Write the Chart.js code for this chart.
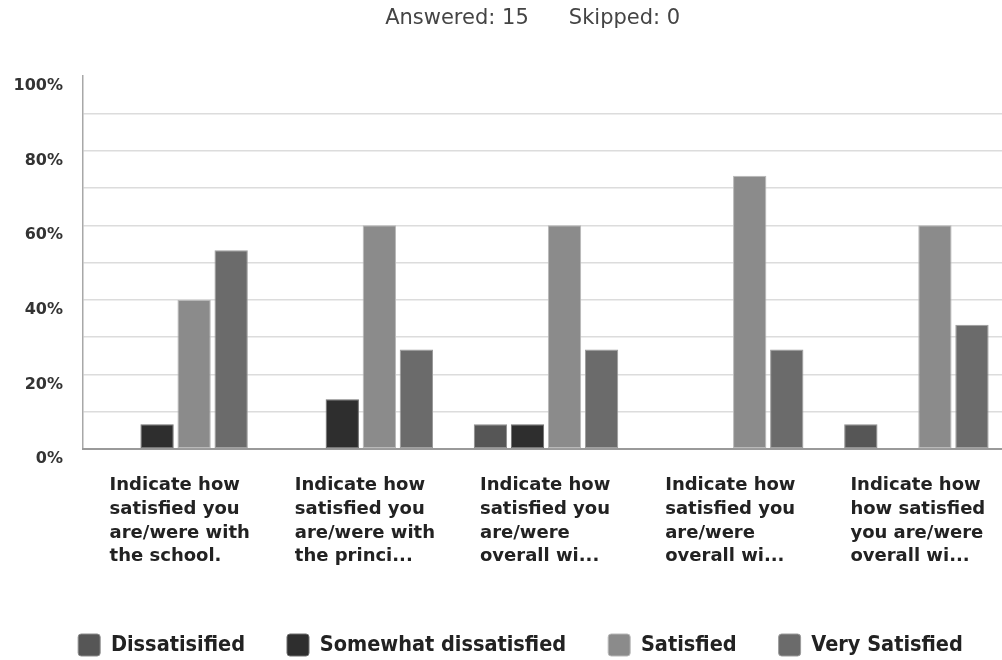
<!DOCTYPE html>
<html>
<head>
<meta charset="utf-8">
<script src="https://cdn.jsdelivr.net/npm/chart.js@4/dist/chart.umd.min.js"></script>
<style>
  html, body { margin: 0; padding: 0; background: #fff; overflow: hidden; }
  #wrap { width: 1010px; height: 660px; }
</style>
</head>
<body>
<div id="wrap"><canvas id="myChart" width="1010" height="660"></canvas></div>
<script>
const questions = [
    ['Indicate how', 'satisfied you', 'are/were with', 'the school.'],
    ['Indicate how', 'satisfied you', 'are/were with', 'the princi...'],
    ['Indicate how', 'satisfied you', 'are/were', 'overall wi...'],
    ['Indicate how', 'satisfied you', 'are/were', 'overall wi...'],
    ['Indicate how', 'how satisfied', 'you are/were', 'overall wi...']
];
const dissatisfied = [0, 0, 6.67, 0, 6.67];
const somewhatDissatisfied = [6.67, 13.33, 6.67, 0, 0];
const satisfied = [40, 60, 60, 73.33, 60];
const verySatisfied = [53.33, 26.67, 26.67, 26.67, 33.33];
const yTicks = [0, 20, 40, 60, 80, 100];

const ctx = 'myChart';

// nudge the legend a bit right so it sits under the plot like the original
const legendShift = {
    id: 'legendShift',
    afterLayout(chart) {
        if (chart.legend) chart.legend.left = 32;
    }
};

const myChart = new Chart(ctx, {
    type: 'bar',
    data: {
        labels: questions,
        datasets: [{
            label: 'Dissatisified',
            data: dissatisfied,
            backgroundColor: '#565656',
            borderColor: '#8c8c8c'
        }, {
            label: 'Somewhat dissatisfied',
            data: somewhatDissatisfied,
            backgroundColor: '#2e2e2e',
            borderColor: '#6e6e6e'
        }, {
            label: 'Satisfied',
            data: satisfied,
            backgroundColor: '#8b8b8b',
            borderColor: '#b8b8b8'
        }, {
            label: 'Very Satisfied',
            data: verySatisfied,
            backgroundColor: '#6b6b6b',
            borderColor: '#9c9c9c'
        }]
    },
    plugins: [legendShift],
    options: {
        responsive: false,
        animation: false,
        categoryPercentage: 0.8,
        barPercentage: 0.9,
        datasets: {
            bar: { borderWidth: 1, borderSkipped: false }
        },
        layout: { padding: { left: 0, right: 1, top: 0, bottom: -6 } },
        scales: {
            y: {
                min: 0,
                max: 100,
                afterFit(scale) { scale.width = 83; },
                ticks: {
                    stepSize: 10,
                    padding: 20,
                    labelOffset: 10,
                    color: '#333',
                    font: { family: 'DejaVu Sans', size: 16, weight: 'bold' },
                    callback: (v) => yTicks.includes(v) ? v + '%' : ''
                },
                grid: {
                    drawTicks: false,
                    color: (c) => c.tick && c.tick.value === 100 ? 'rgba(0,0,0,0)' : '#dcdcdc',
                    lineWidth: 1.5
                },
                border: { display: true, color: '#a8a8a8', width: 1.5 }
            },
            x: {
                afterFit(scale) {
                    scale.height = 143;
                    scale.paddingLeft = 0;
                    scale.paddingRight = 0;
                },
                ticks: {
                    align: 'start',
                    labelOffset: -66,
                    padding: 16,
                    maxRotation: 0,
                    autoSkip: false,
                    color: '#222',
                    font: { family: 'DejaVu Sans', size: 18, weight: 'bold', lineHeight: 1.33 }
                },
                grid: { display: false },
                border: { display: true, color: '#9a9a9a', width: 2 }
            }
        },
        plugins: {
            title: {
                display: true,
                text: 'Answered: 15      Skipped: 0    ',
                fullSize: false,
                color: '#444',
                font: { family: 'DejaVu Sans', size: 21, weight: 'normal' },
                padding: { top: 6, bottom: 45 }
            },
            legend: {
                position: 'bottom',
                labels: {
                    boxWidth: 22,
                    boxHeight: 22,
                    useBorderRadius: true,
                    borderRadius: 3,
                    padding: 42,
                    color: '#222',
                    font: { family: 'DejaVu Sans Condensed', size: 21.5, weight: 'bold', lineHeight: 1 }
                }
            },
            tooltip: { enabled: false }
        }
    }
});
</script>
</body>
</html>
